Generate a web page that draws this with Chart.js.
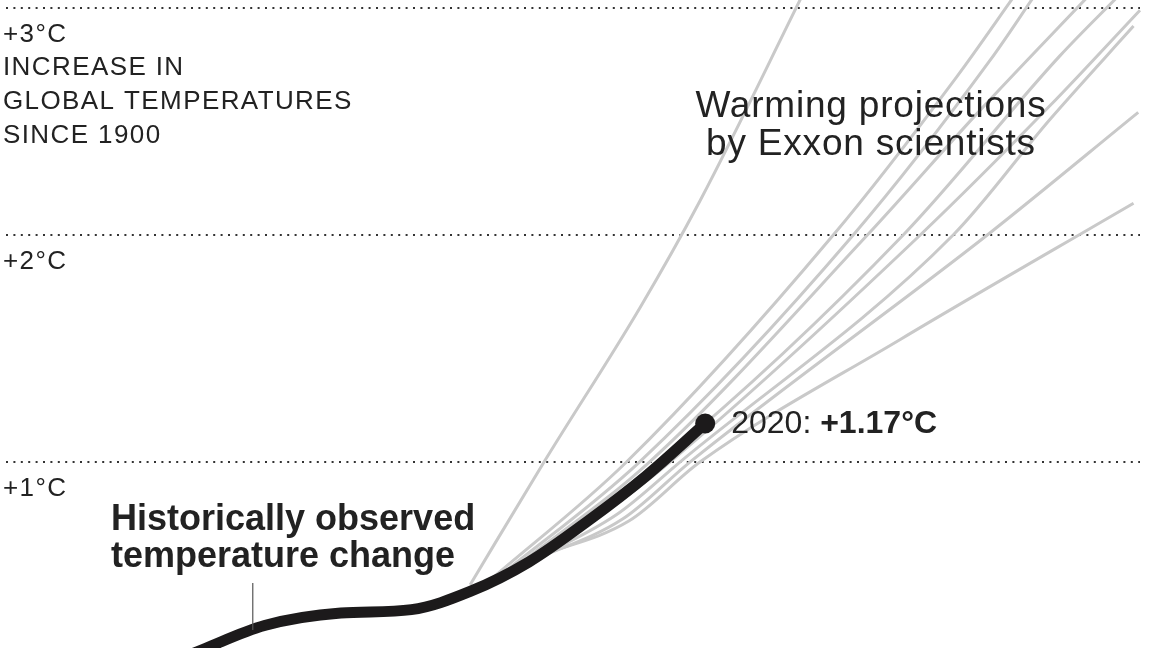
<!DOCTYPE html>
<html>
<head>
<meta charset="utf-8">
<script src="https://cdn.jsdelivr.net/npm/chart.js@4"></script>
<style>
  html, body { margin: 0; padding: 0; background: #fff; }
  #wrap { width: 1152px; height: 648px; }
</style>
</head>
<body>
<div id="wrap"><canvas id="warming" width="1152" height="648"></canvas></div>
<script>
// observed warming since 1900 (°C)
const histYears = [1925, 1935, 1945, 1958, 1970, 1980, 1990, 2000, 2010, 2020];
const histTemps = [0.07, 0.18, 0.28, 0.335, 0.35, 0.43, 0.56, 0.74, 0.94, 1.17];

// Exxon projections, one pair of arrays per curve
const projYears = [
  [1980, 1992.8, 2008.9, 2019.1, 2037],
  [1983.4, 2006.6, 2041.8, 2062.9, 2072.8],
  [1985.1, 2008.8, 2045.2, 2068.5, 2076.2],
  [1986.8, 2010.5, 2047.6, 2066.8, 2085.5],
  [1988.5, 2012.3, 2053.7, 2080.4, 2090.6],
  [1991.1, 2004, 2014.0, 2056.6, 2078.7, 2094.0],
  [1988.5, 2005, 2015.7, 2062.2, 2078.7, 2092.9],
  [1990, 2006, 2017.4, 2068.5, 2093.7],
  [1991.5, 2007, 2019.1, 2053.2, 2092.9]
];
const projTemps = [
  [0.46, 1.01, 1.68, 2.15, 3.08],
  [0.48, 1.00, 2.00, 2.70, 3.06],
  [0.50, 1.00, 2.00, 2.77, 3.06],
  [0.52, 1.00, 2.00, 2.55, 3.06],
  [0.55, 1.00, 2.00, 2.79, 3.06],
  [0.58, 0.80, 1.00, 2.00, 2.57, 2.99],
  [0.54, 0.77, 1.00, 2.00, 2.51, 2.92],
  [0.56, 0.75, 1.00, 2.01, 2.54],
  [0.585, 0.74, 1.00, 1.54, 2.14]
];

const gridTicks = [1, 2, 3];
const tickLabels = ['+1°C', '+2°C', '+3°C'];

const FONT = '"Liberation Sans", Arial, sans-serif';

const datasets = [];

datasets.push({
  label: 'Observed',
  data: histYears.map((y, i) => ({ x: y, y: histTemps[i] })),
  borderColor: '#1c1a1b',
  backgroundColor: '#1c1a1b',
  borderWidth: 11,
  cubicInterpolationMode: 'monotone',
  pointRadius: ctx => ctx.dataIndex === histYears.length - 1 ? 10 : 0,
  pointBorderWidth: 0,
  clip: false,
  order: 0
});

projYears.forEach((yrs, n) => {
  datasets.push({
    label: 'Projection ' + (n + 1),
    data: yrs.map((y, i) => ({ x: y, y: projTemps[n][i] })),
    borderColor: '#c9c9c9',
    borderWidth: 3,
    cubicInterpolationMode: 'monotone',
    pointRadius: 0,
    clip: false,
    order: 1
  });
});

const textPlugin = {
  id: 'labels',
  afterDatasetsDraw(chart) {
    const ctx = chart.ctx;
    const xs = chart.scales.x;
    const ys = chart.scales.y;
    ctx.save();
    ctx.fillStyle = '#222';
    ctx.textBaseline = 'alphabetic';
    ctx.textAlign = 'left';

    // axis labels under each dotted line
    ctx.font = '26px ' + FONT;
    ctx.letterSpacing = '1.4px';
    gridTicks.forEach((t, i) => {
      ctx.fillText(tickLabels[i], 3, ys.getPixelForValue(t) + 34);
    });
    const top = ys.getPixelForValue(3) + 34;
    ctx.fillText('INCREASE IN', 3, top + 33);
    ctx.fillText('GLOBAL TEMPERATURES', 3, top + 67);
    ctx.fillText('SINCE 1900', 3, top + 101);

    // projections title
    ctx.font = '37px ' + FONT;
    ctx.letterSpacing = '0.8px';
    ctx.textAlign = 'center';
    ctx.fillText('Warming projections', 871, 117);
    ctx.fillText('by Exxon scientists', 871, 155);

    // observed label + leader line
    ctx.textAlign = 'left';
    ctx.letterSpacing = '0px';
    ctx.font = 'bold 36px ' + FONT;
    ctx.fillText('Historically observed', 111, 530);
    ctx.fillText('temperature change', 111, 567);
    ctx.strokeStyle = '#555';
    ctx.lineWidth = 1.2;
    ctx.beginPath();
    ctx.moveTo(xs.getPixelForValue(1943), 583);
    ctx.lineTo(xs.getPixelForValue(1943), ys.getPixelForValue(0.26));
    ctx.stroke();

    // 2020 end label
    const last = histYears.length - 1;
    const px = xs.getPixelForValue(histYears[last]) + 26;
    const py = ys.getPixelForValue(histTemps[last]) + 10;
    ctx.font = '32px ' + FONT;
    ctx.fillText('2020: ', px, py);
    const w = ctx.measureText('2020: ').width;
    ctx.font = 'bold 32px ' + FONT;
    ctx.fillText('+' + histTemps[last].toFixed(2) + '°C', px + w, py);
    ctx.restore();
  }
};

new Chart(document.getElementById('warming').getContext('2d'), {
  type: 'line',
  data: { datasets: datasets },
  options: {
    responsive: false,
    animation: false,
    layout: { autoPadding: false, padding: { left: 6, right: 12, top: 0, bottom: 0 } },
    plugins: {
      legend: { display: false },
      tooltip: { enabled: false }
    },
    scales: {
      x: {
        type: 'linear',
        min: 1901,
        max: 2094,
        display: false
      },
      y: {
        type: 'linear',
        min: 0.181,
        max: 3.035,
        afterBuildTicks: axis => { axis.ticks = gridTicks.map(v => ({ value: v })); },
        ticks: { display: false },
        grid: {
          color: '#333',
          lineWidth: 2,
          drawTicks: false
        },
        border: { display: false, dash: [2, 5.4] }
      }
    }
  },
  plugins: [textPlugin]
});
</script>
</body>
</html>
